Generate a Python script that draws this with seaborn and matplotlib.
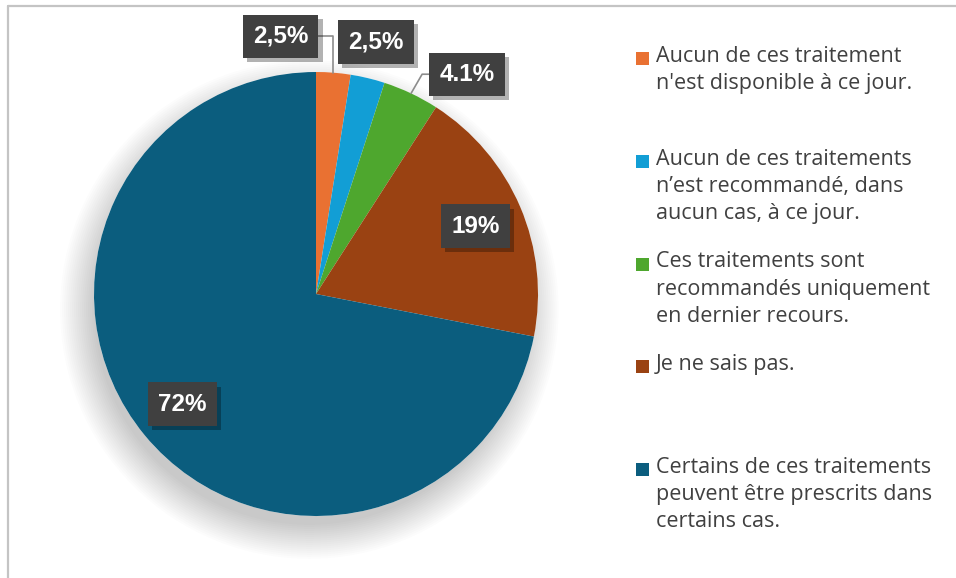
import matplotlib
matplotlib.use("Agg")
import matplotlib.pyplot as plt
import matplotlib.patheffects as pe
from matplotlib.patches import Circle, Rectangle
from matplotlib.lines import Line2D
import seaborn as sns
import numpy as np

sns.set_style("white")
plt.rcParams['font.family'] = ['Open Sans', 'DejaVu Sans']

# donnees
categories = [
    "Aucun de ces traitement\nn'est disponible à ce jour.",
    "Aucun de ces traitements\nn’est recommandé, dans\naucun cas, à ce jour.",
    "Ces traitements sont\nrecommandés uniquement\nen dernier recours.",
    "Je ne sais pas.",
    "Certains de ces traitements\npeuvent être prescrits dans\ncertains cas.",
]
valeurs = [2.5, 2.5, 4.1, 19, 72]
etiquettes = ["2,5%", "2,5%", "4.1%", "19%", "72%"]
couleurs = sns.color_palette(["#E97132", "#129ED5", "#4EA72E", "#9A4212", "#0B5D7E"])

W, H = 956, 578
fig = plt.figure(figsize=(W / 100, H / 100), dpi=100)

# cadre gris (haut et gauche)
fig.add_artist(Line2D([7.5 / W, 1], [1 - 5.5 / H, 1 - 5.5 / H], color="#c4c4c4", lw=1.6))
fig.add_artist(Line2D([7.5 / W, 7.5 / W], [0, 1 - 5.5 / H], color="#c4c4c4", lw=1.6))

cx, cy, r = 316, 294, 222
ax = fig.add_axes([(cx - r) / W, (H - cy - r) / H, 2 * r / W, 2 * r / H])

wedges, _ = ax.pie(valeurs, colors=couleurs, startangle=90, counterclock=False,
                   radius=1, wedgeprops=dict(lw=0), normalize=True)
for w in wedges:
    w.set_zorder(1)
ax.set_xlim(-1, 1)
ax.set_ylim(-1, 1)
ax.set_aspect("equal")
ax.axis("off")

# ombre douce du camembert, surtout vers le bas
for k in range(18):
    ax.add_patch(Circle((-0.03, -0.07), 0.97 + 0.009 * k, color="black",
                        alpha=0.01, lw=0, zorder=0, clip_on=False))
ax.add_patch(Circle((0, 0), 1.0, color="white", lw=0, zorder=0.5))

boite = dict(boxstyle="square,pad=0.42", fc="#404040", ec="none")
ombre = [pe.SimplePatchShadow(offset=(3, -3), shadow_rgbFace="black", alpha=0.3), pe.Normal()]
style = dict(color="white", fontsize=17.5, fontweight="bold",
             family=["Liberation Sans"], bbox=boite, zorder=5,
             ha="center", va="center")

total = sum(valeurs)
cumul = np.cumsum([0] + valeurs[:-1])
for i, (v, lab) in enumerate(zip(valeurs, etiquettes)):
    mid = np.deg2rad(90 - (cumul[i] + v / 2) / total * 360)
    ex, ey = np.cos(mid), np.sin(mid)
    if v > 10:
        t = ax.text(0.78 * ex, 0.78 * ey, lab, **style)
    else:
        decal = {0: (-0.16, 1.16), 1: (0.27, 1.135), 2: (0.68, 0.99)}[i]
        if i == 1:
            t = ax.text(decal[0], decal[1], lab, **style)
        else:
            angB = 90 if i == 0 else 60
            t = ax.annotate(lab, xy=(ex, ey), xytext=decal, annotation_clip=False,
                            arrowprops=dict(arrowstyle="-", color="#8c8c8c", lw=1.2,
                                            shrinkA=0, shrinkB=0,
                                            connectionstyle=f"angle,angleA=0,angleB={angB},rad=0"),
                            **style)
    t.set_clip_on(False)
    t.get_bbox_patch().set_path_effects(ombre)

# legende dessinee a la main, entrees espacees regulierement
pas = 102.75
for i, (lab, c) in enumerate(zip(categories, couleurs)):
    base = 65 + pas * i
    fig.add_artist(Rectangle((636 / W, (H - base) / H), 13 / W, 13 / H,
                             transform=fig.transFigure, color=c, lw=0))
    fig.text(656 / W, (H - base + 19) / H, lab, ha="left", va="top",
             fontsize=15.5, color="#404040", linespacing=1.38)

fig.savefig("out.png", dpi=100)
